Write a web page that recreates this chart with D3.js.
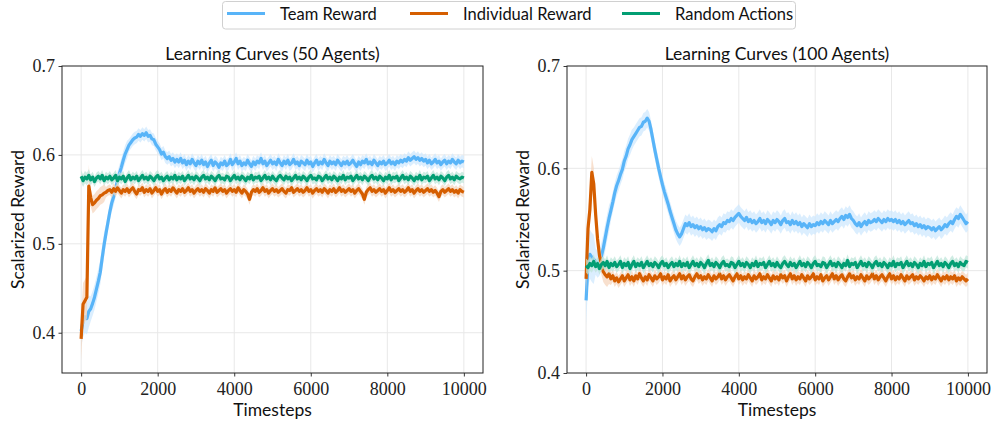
<!DOCTYPE html>
<html>
<head>
<meta charset="utf-8">
<script src="https://cdn.jsdelivr.net/npm/d3@7"></script>
<style>
  html, body { margin: 0; padding: 0; background: #fff; }
  svg { display: block; }
  .serif { font-family: "Liberation Serif", "Times New Roman", "DejaVu Serif", serif; }
</style>
</head>
<body>
<svg id="chart" width="993" height="423"></svg>
<script>
// ---------------- DATA ----------------
const seriesNames = ["Team Reward", "Individual Reward", "Random Actions"];
const panelTitles = ["Learning Curves (50 Agents)", "Learning Curves (100 Agents)"];
const xTicks = [0, 2000, 4000, 6000, 8000, 10000];
const yTicks = [0.4, 0.5, 0.6, 0.7];
const timeStep = 50;     // one value every 50 timesteps, 0..10000

// 50 agents
const teamL = [
0.402,0.413,0.418,0.416,0.424,0.427,0.433,0.440,0.449,0.458,
0.468,0.484,0.499,0.512,0.524,0.536,0.546,0.553,0.562,0.571,
0.579,0.586,0.594,0.601,0.606,0.611,0.614,0.617,0.619,0.620,
0.623,0.621,0.624,0.622,0.625,0.621,0.622,0.618,0.617,0.612,
0.609,0.606,0.601,0.603,0.598,0.596,0.598,0.594,0.596,0.592,
0.595,
0.592,0.596,0.591,0.594,0.589,0.593,0.590,0.595,0.591,0.588,
0.593,0.590,0.594,0.589,0.592,0.587,0.591,0.594,0.588,0.592,
0.590,0.586,0.591,0.589,0.593,0.588,0.590,0.595,0.589,0.592,
0.596,0.590,0.593,0.588,0.591,0.589,0.594,0.590,0.587,0.592,
0.589,0.593,0.591,0.596,0.590,0.593,0.588,0.591,0.594,0.590,
0.592,0.589,0.595,0.591,0.588,0.593,0.590,0.594,0.589,0.591,
0.595,0.590,0.592,0.588,0.593,0.591,0.589,0.594,0.590,0.592,
0.587,0.591,0.594,0.589,0.592,0.590,0.595,0.591,0.588,0.593,
0.590,0.592,0.589,0.594,0.591,0.588,0.592,0.590,0.593,0.589,
0.591,0.594,0.590,0.587,0.592,0.589,0.593,0.591,0.595,0.590,
0.592,0.589,0.594,0.591,0.588,0.592,0.590,0.593,0.589,0.591,
0.594,0.590,0.592,0.589,0.593,0.591,0.594,0.592,0.595,0.593,
0.597,0.594,0.596,0.598,0.595,0.597,0.594,0.596,0.593,0.595,
0.591,0.594,0.590,0.592,0.595,0.591,0.593,0.589,0.592,0.594,
0.590,0.593,0.591,0.595,0.592,0.590,0.594,0.591,0.593,0.592
];
const indivL = [
0.393,0.432,0.436,0.440,0.565,0.552,0.544,0.546,0.549,0.551,
0.554,0.555,0.557,0.558,0.560,
0.561,0.558,0.562,0.559,0.563,0.560,0.557,0.561,0.559,0.562,
0.558,0.561,0.563,0.559,0.556,0.561,0.560,0.563,0.558,0.561,
0.559,0.562,0.557,0.560,0.563,0.559,0.561,0.556,0.560,0.562,
0.558,0.561,0.559,0.563,0.560,0.557,0.561,0.559,0.562,0.558,
0.560,0.563,0.559,0.561,0.557,0.560,0.562,0.559,0.561,0.558,
0.562,0.560,0.557,0.561,0.559,0.563,0.558,0.560,0.562,0.559,
0.561,0.557,0.560,0.562,0.559,0.561,0.558,0.563,0.560,0.557,
0.561,0.559,0.556,0.550,0.558,0.561,0.559,0.562,0.558,0.560,
0.563,0.559,0.561,0.557,0.560,0.562,0.559,0.561,0.558,0.560,
0.562,0.559,0.557,0.561,0.560,0.563,0.558,0.560,0.562,0.559,
0.561,0.558,0.560,0.563,0.559,0.561,0.557,0.560,0.562,0.559,
0.561,0.558,0.562,0.560,0.557,0.561,0.559,0.562,0.558,0.560,
0.563,0.559,0.561,0.558,0.560,0.562,0.559,0.561,0.557,0.560,
0.562,0.559,0.556,0.550,0.558,0.561,0.563,0.559,0.561,0.558,
0.560,0.562,0.559,0.561,0.557,0.560,0.563,0.559,0.561,0.558,
0.560,0.562,0.559,0.561,0.558,0.560,0.563,0.559,0.561,0.557,
0.560,0.562,0.559,0.561,0.558,0.560,0.562,0.559,0.561,0.558,
0.560,0.557,0.553,0.559,0.561,0.558,0.560,0.562,0.559,0.561,
0.558,0.560,0.557,0.561,0.559,0.558
];
const randL = [
0.576,0.571,0.575,0.573,0.577,0.572,0.575,0.570,0.574,0.576,
0.573,0.577,0.571,0.575,0.573,0.576,0.572,0.574,0.577,0.571,
0.575,0.573,0.576,0.570,0.574,0.577,0.572,0.575,0.573,0.576,
0.571,0.574,0.577,0.573,0.575,0.572,0.576,0.574,0.571,0.575,
0.577,0.573,0.575,0.571,0.574,0.576,0.572,0.575,0.573,0.577,
0.572,0.575,0.573,0.576,0.571,0.574,0.577,0.573,0.575,0.572,
0.576,0.574,0.571,0.575,0.577,0.573,0.575,0.572,0.576,0.574,
0.571,0.575,0.577,0.573,0.574,0.572,0.576,0.575,0.571,0.574,
0.577,0.573,0.575,0.572,0.576,0.574,0.571,0.575,0.573,0.577,
0.572,0.575,0.574,0.576,0.571,0.574,0.577,0.573,0.575,0.572,
0.576,0.573,0.571,0.575,0.577,0.574,0.572,0.576,0.573,0.575,
0.571,0.574,0.577,0.573,0.575,0.572,0.576,0.574,0.571,0.575,
0.577,0.573,0.574,0.572,0.576,0.575,0.571,0.574,0.577,0.573,
0.575,0.572,0.576,0.574,0.571,0.575,0.573,0.577,0.572,0.575,
0.574,0.576,0.571,0.574,0.577,0.573,0.575,0.572,0.576,0.574,
0.571,0.575,0.577,0.573,0.575,0.572,0.576,0.574,0.571,0.575,
0.573,0.577,0.572,0.575,0.574,0.576,0.571,0.574,0.577,0.573,
0.575,0.572,0.576,0.574,0.571,0.575,0.573,0.577,0.572,0.575,
0.574,0.576,0.571,0.574,0.577,0.573,0.575,0.572,0.576,0.574,
0.571,0.575,0.577,0.573,0.575,0.572,0.576,0.574,0.573,0.575,
0.574
];

// 100 agents
const teamR = [
0.471,0.508,0.516,0.513,0.511,0.509,0.506,0.508,0.514,0.522,
0.532,0.542,0.551,0.559,0.567,0.576,0.583,0.588,0.594,0.599,
0.607,0.612,0.619,0.623,0.628,0.631,0.634,0.637,0.640,0.641,
0.645,0.646,0.649,0.646,0.638,0.628,0.618,0.609,0.600,0.592,
0.584,0.577,0.571,0.565,0.558,0.552,0.546,0.540,0.536,0.533,
0.536,0.541,0.546,0.544,0.547,0.543,0.545,0.542,0.544,0.541,
0.543,0.540,0.542,0.539,0.541,0.540,0.538,0.541,0.539,0.543,
0.545,0.543,0.547,0.546,0.549,0.548,0.551,0.549,0.552,0.554,
0.556,0.553,0.551,0.549,0.552,0.548,0.550,0.547,0.549,0.546,
0.548,
0.551,0.547,0.549,0.546,0.550,0.548,0.545,0.549,0.547,0.550,
0.548,0.545,0.549,0.551,0.547,0.548,0.545,0.549,0.546,0.548,
0.545,0.547,0.543,0.546,0.544,0.542,0.546,0.543,0.545,0.544,
0.547,0.545,0.548,0.546,0.549,0.547,0.545,0.549,0.546,0.548,
0.550,0.548,0.551,0.553,0.550,0.554,0.552,0.555,0.551,0.549,
0.546,0.544,0.547,0.543,0.546,0.548,0.545,0.549,0.547,0.548,
0.550,0.548,0.551,0.549,0.547,0.550,0.548,0.551,0.549,0.550,
0.548,0.550,0.547,0.549,0.546,0.548,0.545,0.547,0.549,0.546,
0.547,0.544,0.546,0.543,0.545,0.542,0.544,0.541,0.543,0.542,
0.540,0.542,0.539,0.541,0.543,0.540,0.542,0.545,0.543,0.546,
0.548,0.546,0.550,0.553,0.551,0.555,0.552,0.549,0.546,0.548
];
const indivR = [
0.492,0.541,0.560,0.596,0.585,0.555,0.531,0.515,0.506,0.499,
0.496,
0.494,0.497,0.492,0.495,0.490,0.493,0.489,0.492,0.495,0.490,
0.493,0.496,0.491,0.494,0.490,0.495,0.492,0.497,0.493,0.490,
0.494,0.491,0.496,0.493,0.490,0.495,0.492,0.494,0.497,0.491,
0.494,0.492,0.496,0.490,0.493,0.495,0.491,0.494,0.497,0.492,
0.495,0.491,0.494,0.496,0.492,0.490,0.494,0.497,0.493,0.495,
0.491,0.494,0.492,0.496,0.493,0.490,0.495,0.492,0.494,0.497,
0.492,0.495,0.491,0.494,0.496,0.493,0.490,0.494,0.497,0.492,
0.495,0.491,0.494,0.492,0.496,0.493,0.490,0.495,0.492,0.494,
0.497,0.491,0.494,0.492,0.496,0.493,0.490,0.495,0.492,0.494,
0.491,0.496,0.493,0.495,0.490,0.494,0.497,0.492,0.495,0.491,
0.494,0.492,0.496,0.493,0.490,0.495,0.492,0.494,0.497,0.491,
0.494,0.492,0.496,0.490,0.493,0.495,0.491,0.494,0.497,0.492,
0.495,0.491,0.494,0.496,0.492,0.490,0.494,0.497,0.493,0.495,
0.491,0.494,0.492,0.496,0.493,0.490,0.495,0.492,0.494,0.497,
0.492,0.495,0.491,0.494,0.496,0.493,0.490,0.494,0.497,0.492,
0.495,0.491,0.494,0.492,0.496,0.493,0.490,0.495,0.492,0.494,
0.496,0.491,0.494,0.492,0.495,0.493,0.490,0.494,0.492,0.495,
0.491,0.494,0.492,0.496,0.493,0.490,0.494,0.492,0.495,0.491,
0.494,0.492,0.495,0.490,0.493,0.491,0.494,0.492,0.490,0.492
];
const randR = [
0.505,0.503,0.507,0.505,0.509,0.504,0.507,0.502,0.506,0.508,
0.505,0.509,0.503,0.507,0.505,0.508,0.504,0.506,0.509,0.503,
0.507,0.505,0.508,0.502,0.506,0.509,0.504,0.507,0.505,0.508,
0.503,0.506,0.509,0.505,0.507,0.504,0.508,0.506,0.503,0.507,
0.509,0.505,0.507,0.503,0.506,0.508,0.504,0.507,0.505,0.509,
0.504,0.507,0.505,0.508,0.503,0.506,0.509,0.505,0.507,0.504,
0.508,0.506,0.503,0.507,0.510,0.505,0.507,0.504,0.508,0.506,
0.503,0.507,0.509,0.505,0.506,0.504,0.508,0.507,0.503,0.506,
0.509,0.505,0.507,0.504,0.508,0.506,0.503,0.507,0.505,0.509,
0.504,0.507,0.506,0.508,0.503,0.506,0.509,0.505,0.507,0.504,
0.508,0.505,0.503,0.507,0.509,0.506,0.504,0.508,0.505,0.507,
0.503,0.506,0.509,0.505,0.507,0.504,0.508,0.506,0.503,0.507,
0.509,0.505,0.506,0.504,0.508,0.507,0.503,0.506,0.509,0.505,
0.507,0.504,0.508,0.506,0.503,0.507,0.505,0.510,0.504,0.507,
0.506,0.508,0.503,0.506,0.509,0.505,0.507,0.504,0.508,0.506,
0.503,0.507,0.509,0.505,0.507,0.504,0.508,0.506,0.503,0.507,
0.505,0.509,0.504,0.507,0.506,0.508,0.503,0.506,0.509,0.505,
0.507,0.504,0.508,0.506,0.503,0.507,0.505,0.509,0.504,0.507,
0.506,0.508,0.503,0.506,0.509,0.505,0.507,0.504,0.508,0.506,
0.503,0.507,0.509,0.505,0.507,0.504,0.508,0.506,0.505,0.509,
0.508
];

// shaded band half-widths (std), per training phase ending at these timesteps
const bandPhaseEnds = [200, 600, 1200, 10000];
const bandTeamL  = [0.018, 0.014, 0.010, 0.007];
const bandIndivL = [0.024, 0.010, 0.006, 0.006];
const bandRandL  = [0.007, 0.006, 0.006, 0.006];
const bandTeamR  = [0.024, 0.013, 0.010, 0.009];
const bandIndivR = [0.016, 0.010, 0.006, 0.006];
const bandRandR  = [0.007, 0.006, 0.006, 0.006];

// ---------------- DRAWING ----------------
const colors = ["#58b4f8", "#d55e00", "#029e73"];
const bandColors = ["#cfe8fd", "#f6d5bd", "#bfe5d9"];

const svg = d3.select("#chart");
const sansFont = "Lato, 'Open Sans', sans-serif";

const panels = [
  { title: panelTitles[0], left: 62, right: 483, yDomain: [0.3547, 0.7],
    series: [teamL, indivL, randL], bands: [bandTeamL, bandIndivL, bandRandL] },
  { title: panelTitles[1], left: 567, right: 987, yDomain: [0.4, 0.7],
    series: [teamR, indivR, randR], bands: [bandTeamR, bandIndivR, bandRandR] }
];
const plotTop = 66, plotBottom = 373;

function bandAt(band, t) {
  for (let k = 0; k < bandPhaseEnds.length; k++) if (t <= bandPhaseEnds[k]) return band[k];
  return band[band.length - 1];
}

panels.forEach((p, pi) => {
  const x = d3.scaleLinear().domain([-500, 10500]).range([p.left, p.right]);
  const y = d3.scaleLinear().domain(p.yDomain).range([plotBottom, plotTop]);
  const g = svg.append("g");

  const clipId = "clip" + pi;
  svg.append("clipPath").attr("id", clipId).append("rect")
    .attr("x", p.left).attr("y", plotTop).attr("width", p.right - p.left).attr("height", plotBottom - plotTop);

  // grid
  g.append("g").selectAll("line").data(xTicks).join("line")
    .attr("x1", d => x(d)).attr("x2", d => x(d)).attr("y1", plotTop).attr("y2", plotBottom)
    .attr("stroke", "#e8e8e8").attr("stroke-width", 1);
  g.append("g").selectAll("line").data(yTicks.filter(v => v > p.yDomain[0] && v < p.yDomain[1])).join("line")
    .attr("x1", p.left).attr("x2", p.right).attr("y1", d => y(d)).attr("y2", d => y(d))
    .attr("stroke", "#e8e8e8").attr("stroke-width", 1);

  const plot = g.append("g").attr("clip-path", `url(#${clipId})`);
  p.series.forEach((vals, si) => {
    const pts = vals.map((v, i) => ({ t: i * timeStep, v: v, s: bandAt(p.bands[si], i * timeStep) }));
    const area = d3.area().x(d => x(d.t)).y0(d => y(d.v - d.s)).y1(d => y(d.v + d.s));
    plot.append("path").datum(pts).attr("d", area)
      .attr("fill", bandColors[si]).attr("fill-opacity", 0.75);
    const line = d3.line().x(d => x(d.t)).y(d => y(d.v));
    plot.append("path").datum(pts).attr("d", line)
      .attr("fill", "none").attr("stroke", colors[si]).attr("stroke-width", 3.2)
      .attr("stroke-linejoin", "round");
  });

  // axes
  const xAxis = d3.axisBottom(x).tickValues(xTicks).tickSize(3.5).tickPadding(4).tickFormat(d3.format("d"));
  const yAxis = d3.axisLeft(y).tickValues(yTicks).tickSize(3.5).tickPadding(3.5).tickFormat(d3.format(".1f"));
  const gx = g.append("g").attr("transform", `translate(0,${plotBottom})`).call(xAxis);
  const gy = g.append("g").attr("transform", `translate(${p.left},0)`).call(yAxis);
  [gx, gy].forEach(ax => {
    ax.attr("font-family", null).attr("font-size", null);
    ax.select(".domain").remove();
    ax.selectAll(".tick line").attr("stroke", "#222").attr("stroke-width", 0.9);
    ax.selectAll(".tick text").attr("class", "serif").style("font-size", "18px").attr("fill", "#222");
  });
  gx.selectAll(".tick text").attr("dy", "0.8em");

  // frame
  g.append("rect").attr("x", p.left).attr("y", plotTop).attr("width", p.right - p.left).attr("height", plotBottom - plotTop)
    .attr("fill", "none").attr("stroke", "#222").attr("stroke-width", 1);

  // titles
  const cx = (p.left + p.right) / 2;
  g.append("text").attr("x", cx).attr("y", 60).attr("text-anchor", "middle")
    .attr("font-family", sansFont).attr("font-size", 17.5).attr("fill", "#111").text(p.title);
  g.append("text").attr("x", cx).attr("y", 416).attr("text-anchor", "middle")
    .attr("font-family", sansFont).attr("font-size", 17.5).attr("fill", "#111").text("Timesteps");
  g.append("text").attr("transform", `translate(${p.left - 38},${(plotTop + plotBottom) / 2}) rotate(-90)`)
    .attr("text-anchor", "middle")
    .attr("font-family", sansFont).attr("font-size", 17.5).attr("fill", "#111").text("Scalarized Reward");
});

// legend
const lg = svg.append("g");
lg.append("rect").attr("x", 222.5).attr("y", 1.5).attr("width", 573).attr("height", 27.5).attr("rx", 3)
  .attr("fill", "#fff").attr("stroke", "#d0d0d0").attr("stroke-width", 1);
const legendX = [227, 410, 622];
seriesNames.forEach((name, i) => {
  lg.append("line").attr("x1", legendX[i]).attr("x2", legendX[i] + 38).attr("y1", 13.5).attr("y2", 13.5)
    .attr("stroke", colors[i]).attr("stroke-width", 2.8);
  lg.append("text").attr("x", legendX[i] + 53).attr("y", 19.5)
    .attr("font-family", sansFont).attr("font-size", 16.5).attr("fill", "#111").text(name);
});
</script>
</body>
</html>
